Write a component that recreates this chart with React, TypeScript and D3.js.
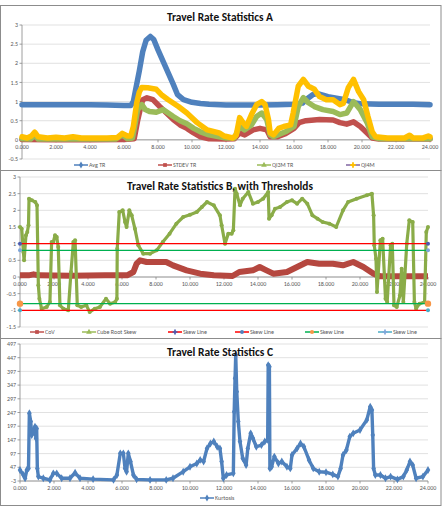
import { useEffect, useRef } from 'react';
import * as d3 from 'd3';

type Pt = [number, number];

// ---- shared axis values ----
const hourTicks = [0, 2, 4, 6, 8, 10, 12, 14, 16, 18, 20, 22, 24];
const yTicksA = [-0.5, 0, 0.5, 1, 1.5, 2, 2.5, 3];
const yTicksB = [-1.5, -1, -0.5, 0, 0.5, 1, 1.5, 2, 2.5, 3];
const yTicksC = [-3, 47, 97, 147, 197, 247, 297, 347, 397, 447, 497];

// ---- Statistics A ----
const avgTR: Pt[] = [
  [0, 0.92], [1, 0.92], [2, 0.92], [3, 0.92], [4, 0.92], [5, 0.91], [6, 0.9], [6.4, 0.9],
  [6.55, 1.0], [6.7, 1.35], [6.9, 1.8], [7.1, 2.3], [7.3, 2.6], [7.55, 2.7], [7.75, 2.62],
  [8.0, 2.35], [8.3, 2.05], [8.6, 1.75], [8.9, 1.45], [9.15, 1.18], [9.5, 1.05], [10, 0.98],
  [10.5, 0.95], [11, 0.93], [12, 0.91], [13, 0.91], [14, 0.91], [15, 0.92], [16, 0.93],
  [16.5, 0.96], [16.8, 1.08], [17.1, 1.18], [17.35, 1.21], [17.7, 1.17], [18, 1.13],
  [18.5, 1.09], [19, 1.05], [19.5, 0.97], [20, 0.94], [21, 0.93], [22, 0.93], [23, 0.93], [24, 0.92],
];
const stdevTR: Pt[] = [
  [0, 0.01], [2, 0.0], [4, 0.0], [6, 0.01], [6.6, 0.03], [6.8, 0.5], [6.95, 0.79], [7.1, 1.05],
  [7.35, 1.1], [7.7, 1.05], [8.1, 0.87], [8.5, 0.7], [8.9, 0.53], [9.3, 0.39], [9.7, 0.3],
  [10.1, 0.18], [10.5, 0.08], [11, 0.03], [12, 0.02], [12.5, 0.03], [12.8, 0.18], [13.1, 0.13],
  [13.6, 0.26], [14.0, 0.3], [14.4, 0.26], [14.6, 0.08], [15.0, 0.08], [15.5, 0.16], [16.0, 0.3],
  [16.3, 0.45], [16.7, 0.5], [17.5, 0.53], [18.3, 0.52], [18.7, 0.45], [19.1, 0.41], [19.5, 0.47],
  [19.9, 0.35], [20.3, 0.18], [20.6, 0.05], [21, 0.02], [24, 0.02],
];
const qi3mTR: Pt[] = [
  [0, 0.03], [0.5, 0.02], [0.75, 0.12], [0.95, 0.02], [2, 0.02], [3, 0.03], [4, 0.02], [5.5, 0.02],
  [5.9, 0.13], [6.2, 0.03], [6.5, 0.05], [6.65, 0.4], [6.8, 0.79], [7.05, 0.92], [7.25, 0.79],
  [7.5, 0.74], [7.9, 0.72], [8.3, 0.79], [8.6, 0.7], [8.9, 0.61], [9.3, 0.5], [9.7, 0.42],
  [10.1, 0.3], [10.5, 0.21], [11, 0.13], [11.6, 0.08], [12, 0.05], [12.5, 0.05], [12.8, 0.35],
  [13.1, 0.26], [13.5, 0.39], [13.8, 0.61], [14.1, 0.7], [14.4, 0.53], [14.6, 0.13], [14.8, 0.08],
  [15.5, 0.21], [16.0, 0.35], [16.25, 0.87], [16.55, 1.1], [16.85, 0.97], [17.2, 0.87], [17.7, 0.79],
  [18.3, 0.74], [18.7, 0.66], [19.1, 0.7], [19.5, 1.0], [19.9, 0.79], [20.3, 0.45], [20.6, 0.08],
  [21, 0.03], [24, 0.03],
];
const qi4m: Pt[] = [
  [0, 0.08], [0.3, 0.05], [0.55, 0.1], [0.75, 0.2], [0.95, 0.08], [1.5, 0.05], [2, 0.07], [2.5, 0.05],
  [3, 0.08], [3.5, 0.05], [4, 0.05], [5, 0.05], [5.6, 0.06], [5.9, 0.17], [6.2, 0.1], [6.4, 0.1],
  [6.55, 0.35], [6.75, 0.97], [6.9, 1.25], [7.05, 1.37], [7.4, 1.36], [7.9, 1.32], [8.2, 1.18],
  [8.6, 1.05], [9.2, 0.87], [9.7, 0.7], [10.3, 0.45], [10.9, 0.26], [11.6, 0.18], [11.9, 0.1],
  [12.4, 0.05], [12.6, 0.12], [12.8, 0.58], [13.0, 0.45], [13.2, 0.35], [13.5, 0.66], [13.8, 0.92],
  [14.1, 1.0], [14.3, 0.92], [14.5, 0.53], [14.6, 0.18], [14.8, 0.13], [15.1, 0.3], [15.4, 0.35],
  [15.8, 0.39], [15.95, 0.7], [16.25, 1.4], [16.55, 1.58], [16.85, 1.4], [17.2, 1.32], [17.5, 1.13],
  [17.9, 1.05], [18.3, 1.05], [18.7, 0.92], [18.9, 0.95], [19.2, 1.37], [19.5, 1.58], [19.8, 1.26],
  [20.1, 1.05], [20.35, 0.61], [20.6, 0.21], [20.8, 0.08], [21.5, 0.05], [22.5, 0.05], [22.8, 0.12],
  [23, 0.05], [23.6, 0.05], [23.9, 0.1], [24, 0.08],
];

// ---- Statistics B ----
const cov: Pt[] = [
  [0, 0.05], [0.5, 0.05], [0.8, 0.08], [1.1, 0.05], [3, 0.04], [5, 0.05], [6.3, 0.05], [6.67, 0.15],
  [6.86, 0.4], [7.06, 0.5], [7.45, 0.45], [8.04, 0.45], [8.6, 0.45], [9.0, 0.35], [9.8, 0.2],
  [10.6, 0.1], [11.4, 0.05], [12.5, 0.03], [12.9, 0.15], [13.7, 0.2], [14.1, 0.3], [14.5, 0.2],
  [14.9, 0.1], [15.7, 0.15], [16.3, 0.3], [16.9, 0.45], [17.6, 0.4], [18.4, 0.4], [19.0, 0.35],
  [19.6, 0.45], [20.2, 0.3], [20.8, 0.1], [21.2, 0.02], [24, 0.02],
];
const cubeRootSkew: Pt[] = [
  [0, 1.5], [0.1, 1.45], [0.2, 0.75], [0.24, 0.5], [0.35, 1.25], [0.43, 1.35], [0.5, 1.55],
  [0.53, 2.35], [0.7, 2.3], [0.9, 2.25], [1.0, 2.15], [1.08, -0.25], [1.14, -0.65], [1.27, -0.95],
  [1.57, -0.9], [1.76, -0.75], [1.86, 1.05], [1.96, 1.05], [2.06, 1.25], [2.16, 1.2], [2.25, 0.9],
  [2.35, -0.85], [2.55, -0.95], [2.84, -1.0], [3.0, 0.15], [3.14, 1.05], [3.24, 1.1], [3.37, -0.85],
  [3.6, -0.9], [3.9, -0.85], [4.1, -1.05], [4.4, -0.95], [4.7, -0.9], [5.06, -0.65], [5.3, -0.8],
  [5.6, -0.75], [5.7, -0.65], [5.72, 0.85], [5.84, 1.95], [6.04, 2.0], [6.18, 1.65], [6.27, 1.5],
  [6.43, 2.0], [6.57, 1.85], [6.76, 1.45], [6.96, 0.95], [7.25, 0.7], [7.65, 0.7], [8.04, 0.8],
  [8.4, 1.05], [8.8, 1.3], [9.2, 1.6], [9.6, 1.8], [10.0, 1.87], [10.4, 1.95], [10.7, 2.1],
  [11.0, 2.25], [11.4, 2.15], [11.76, 1.85], [11.86, 1.55], [12.06, 1.0], [12.25, 1.3], [12.45, 1.3],
  [12.55, 1.4], [12.65, 2.65], [12.75, 2.5], [12.94, 2.15], [13.1, 2.35], [13.43, 2.55], [13.7, 2.2],
  [14.0, 2.25], [14.3, 2.35], [14.6, 2.55], [14.65, 1.75], [14.8, 1.85], [15.0, 2.05], [15.3, 2.1],
  [15.7, 2.25], [16.0, 2.3], [16.3, 2.2], [16.6, 2.35], [16.9, 2.2], [17.2, 1.85], [17.5, 1.75],
  [17.8, 1.65], [18.2, 1.6], [18.6, 1.5], [19.0, 2.0], [19.3, 2.25], [19.8, 2.35], [20.4, 2.45],
  [20.7, 2.5], [20.8, 1.85], [20.84, 0.95], [20.94, 0.55], [21.0, -0.45], [21.2, 1.1], [21.33, 1.15],
  [21.5, -0.65], [21.6, -0.75], [21.8, 0.95], [21.9, 1.0], [22.0, -0.85], [22.16, -0.9], [22.35, -0.55],
  [22.45, 0.25], [22.55, -0.75], [22.75, 1.0], [22.9, 1.7], [23.1, 1.65], [23.2, -0.75], [23.3, -0.95],
  [23.5, -0.8], [23.8, -0.75], [23.9, 1.35], [24.0, 1.5],
];
const skewLevels = [1, 0.8, -0.8, -1];

// ---- Statistics C ----
const kurtosis: Pt[] = [
  [0, 37], [0.2, 19], [0.3, 7], [0.4, 37], [0.5, 43], [0.55, 244], [0.63, 214], [0.69, 165],
  [0.78, 177], [0.88, 195], [0.94, 153], [0.98, 189], [1.02, 43], [1.08, 13], [1.37, 7], [1.76, 1],
  [1.96, 25], [2.16, 25], [2.45, 7], [2.94, 7], [3.24, 27], [3.53, 7], [4.3, 4], [5.5, 1], [5.7, 19],
  [5.9, 98], [6.08, 98], [6.18, 43], [6.27, 31], [6.37, 98], [6.5, 68], [6.67, 19], [6.86, 3],
  [7.65, 1], [8.6, 1], [9.0, 7], [9.6, 31], [10.0, 49], [10.4, 61], [10.6, 74], [10.8, 68],
  [11.0, 116], [11.2, 134], [11.4, 141], [11.6, 122], [11.76, 116], [11.86, 68], [11.96, 7],
  [12.15, 19], [12.55, 25], [12.6, 250], [12.65, 372], [12.69, 457], [12.75, 323], [12.84, 214],
  [12.94, 141], [13.1, 80], [13.3, 55], [13.4, 116], [13.57, 171], [13.7, 153], [13.9, 122],
  [14.2, 128], [14.4, 141], [14.57, 147], [14.6, 420], [14.67, 414], [14.7, 43], [14.8, 49],
  [14.96, 86], [15.2, 61], [15.4, 68], [15.7, 49], [15.9, 43], [16.0, 92], [16.3, 116], [16.5, 134],
  [16.7, 122], [17.0, 74], [17.25, 43], [17.6, 31], [18.0, 29], [18.4, 21], [18.7, 13], [18.86, 43],
  [19.0, 92], [19.2, 110], [19.4, 159], [19.6, 171], [20.0, 183], [20.4, 220], [20.6, 268],
  [20.7, 256], [20.75, 165], [20.8, 43], [20.9, 19], [21.2, 19], [21.5, 7], [21.8, 13], [22.2, 3],
  [22.55, 13], [22.75, 37], [22.94, 68], [23.1, 55], [23.3, 7], [23.7, 13], [24.0, 37],
];

const FONT = "Carlito, Calibri, 'Liberation Sans Narrow', 'Liberation Sans', sans-serif";
const GRID = '#d9d9d9';
const AXIS = '#868686';
const LABEL = '#595959';

type Sel = d3.Selection<SVGGElement, unknown, null, undefined>;

// gridlines, axis lines and tick labels for one panel
function drawFrame(g: Sel, x: d3.ScaleLinear<number, number>, y: d3.ScaleLinear<number, number>,
  yTicks: number[], baseValue: number) {
  const [x0, x1] = x.range();
  g.selectAll('line.grid').data(yTicks).enter().append('line')
    .attr('x1', x0).attr('x2', x1)
    .attr('y1', d => y(d)).attr('y2', d => y(d))
    .attr('stroke', GRID).attr('stroke-width', 0.8);

  // y axis
  g.append('line').attr('x1', x0).attr('x2', x0)
    .attr('y1', y(yTicks[0])).attr('y2', y(yTicks[yTicks.length - 1]))
    .attr('stroke', AXIS).attr('stroke-width', 0.8);
  g.selectAll('line.ytick').data(yTicks).enter().append('line')
    .attr('x1', x0 - 2.5).attr('x2', x0)
    .attr('y1', d => y(d)).attr('y2', d => y(d))
    .attr('stroke', AXIS).attr('stroke-width', 0.8);
  g.selectAll('text.ylab').data(yTicks).enter().append('text')
    .attr('x', x0 - 4).attr('y', d => y(d))
    .attr('dy', '0.35em').attr('text-anchor', 'end')
    .attr('font-size', 6).attr('fill', LABEL).attr('font-family', FONT)
    .text(d => String(d));

  // x axis sits on the base value line
  const yb = y(baseValue);
  g.append('line').attr('x1', x0).attr('x2', x1).attr('y1', yb).attr('y2', yb)
    .attr('stroke', AXIS).attr('stroke-width', 0.8);
  g.selectAll('line.xtick').data(hourTicks).enter().append('line')
    .attr('x1', d => x(d)).attr('x2', d => x(d))
    .attr('y1', yb).attr('y2', yb + 2.5)
    .attr('stroke', AXIS).attr('stroke-width', 0.8);
  g.selectAll('text.xlab').data(hourTicks).enter().append('text')
    .attr('x', d => x(d)).attr('y', yb + 7)
    .attr('dy', '0.35em').attr('text-anchor', 'middle')
    .attr('font-size', 6).attr('fill', LABEL).attr('font-family', FONT)
    .text(d => d3.format('.3f')(d));
}

function drawTitle(svg: d3.Selection<SVGSVGElement, unknown, null, undefined>, text: string, y: number, width: number) {
  svg.append('text')
    .attr('x', 220).attr('y', y).attr('dy', '0.35em')
    .attr('text-anchor', 'middle')
    .attr('font-family', FONT).attr('font-weight', 'bold').attr('font-size', 11)
    .attr('fill', '#111')
    .attr('textLength', width).attr('lengthAdjust', 'spacingAndGlyphs')
    .text(text);
}

type LegendItem = { label: string; x: number; line: string; marker: string; shape: d3.SymbolType; size: number };

function drawLegend(svg: d3.Selection<SVGSVGElement, unknown, null, undefined>, items: LegendItem[], y: number) {
  items.forEach(it => {
    const g = svg.append('g');
    g.append('line').attr('x1', it.x).attr('x2', it.x + 14).attr('y1', y).attr('y2', y)
      .attr('stroke', it.line).attr('stroke-width', 1.5);
    g.append('path').attr('d', d3.symbol().type(it.shape).size(it.size)())
      .attr('transform', `translate(${it.x + 7},${y})`).attr('fill', it.marker);
    g.append('text').attr('x', it.x + 15).attr('y', y).attr('dy', '0.35em')
      .attr('font-family', FONT).attr('font-size', 6).attr('fill', LABEL)
      .text(it.label);
  });
}

const App = () => {
  const svgRef = useRef<SVGSVGElement>(null);

  useEffect(() => {
    const svg = d3.select(svgRef.current as SVGSVGElement);
    svg.selectAll('*').remove();

    svg.append('rect').attr('width', 445).attr('height', 508).attr('fill', '#fff');

    // panel borders
    [[5, 170], [170, 338], [338, 505]].forEach(([t, b]) => {
      svg.append('rect').attr('x', 0.5).attr('y', t + 0.5).attr('width', 440.5).attr('height', b - t)
        .attr('fill', 'none').attr('stroke', '#8c8c8c').attr('stroke-width', 1);
    });

    // ---------- Panel A ----------
    const xA = d3.scaleLinear().domain([0, 24]).range([22, 430]);
    const yA = d3.scaleLinear().domain([-0.5, 3]).range([159, 25]);
    const gA = svg.append('g');
    drawFrame(gA, xA, yA, yTicksA, 0);
    const lineA = d3.line<Pt>().x(d => xA(d[0])).y(d => yA(d[1])).curve(d3.curveLinear);
    const seriesA: [Pt[], string][] = [
      [avgTR, '#4f81bd'], [stdevTR, '#c0504d'], [qi3mTR, '#9bbb59'], [qi4m, '#ffc000'],
    ];
    seriesA.forEach(([data, color]) => {
      gA.append('path').datum(data).attr('d', lineA)
        .attr('fill', 'none').attr('stroke', color).attr('stroke-width', 5.5)
        .attr('stroke-linejoin', 'round').attr('stroke-linecap', 'round');
    });
    drawTitle(svg, 'Travel Rate Statistics A', 17, 106);
    drawLegend(svg, [
      { label: 'Avg TR', x: 74, line: '#4f81bd', marker: '#4f81bd', shape: d3.symbolDiamond, size: 14 },
      { label: 'STDEV TR', x: 158, line: '#c0504d', marker: '#c0504d', shape: d3.symbolSquare, size: 14 },
      { label: 'QI3M TR', x: 257, line: '#9bbb59', marker: '#9bbb59', shape: d3.symbolTriangle, size: 14 },
      { label: 'QI4M', x: 346, line: '#8064a2', marker: '#ffc000', shape: d3.symbolCross, size: 16 },
    ], 165);

    // ---------- Panel B ----------
    const xB = d3.scaleLinear().domain([0, 24]).range([20, 428]);
    const yB = d3.scaleLinear().domain([-1.5, 3]).range([327, 177]);
    const gB = svg.append('g');
    drawFrame(gB, xB, yB, yTicksB, 0);
    const lineB = d3.line<Pt>().x(d => xB(d[0])).y(d => yB(d[1]));
    gB.append('path').datum(cov).attr('d', lineB)
      .attr('fill', 'none').attr('stroke', '#b5473f').attr('stroke-width', 6)
      .attr('stroke-linejoin', 'round');
    gB.append('path').datum(cubeRootSkew).attr('d', lineB)
      .attr('fill', 'none').attr('stroke', '#8aac48').attr('stroke-width', 3.2)
      .attr('stroke-linejoin', 'round');
    gB.selectAll('circle.skew').data(cubeRootSkew).enter().append('circle')
      .attr('cx', d => xB(d[0])).attr('cy', d => yB(d[1])).attr('r', 2)
      .attr('fill', '#8aac48');

    const levelColors = ['#ff0000', '#00b050', '#00b050', '#ff0000'];
    const endColors = ['#4a5bb0', '#7fa6d9', '#f79646', '#4bacc6'];
    skewLevels.forEach((lv, i) => {
      gB.append('line').attr('x1', xB(0)).attr('x2', xB(24))
        .attr('y1', yB(lv)).attr('y2', yB(lv))
        .attr('stroke', levelColors[i]).attr('stroke-width', 1.4);
      [0, 24].forEach(h => {
        gB.append('circle').attr('cx', xB(h)).attr('cy', yB(lv))
          .attr('r', i === 2 ? 3.2 : 2).attr('fill', endColors[i]);
      });
    });
    drawTitle(svg, 'Travel Rate Statistics B, with Thresholds', 186, 186);
    drawLegend(svg, [
      { label: 'CoV', x: 30, line: '#c0504d', marker: '#c0504d', shape: d3.symbolSquare, size: 14 },
      { label: 'Cube Root Skew', x: 82, line: '#9bbb59', marker: '#9bbb59', shape: d3.symbolTriangle, size: 14 },
      { label: 'Skew Line', x: 168, line: '#ff0000', marker: '#4a5bb0', shape: d3.symbolCross, size: 14 },
      { label: 'Skew Line', x: 235, line: '#ff0000', marker: '#4f81bd', shape: d3.symbolCircle, size: 12 },
      { label: 'Skew Line', x: 305, line: '#00b050', marker: '#f79646', shape: d3.symbolCircle, size: 14 },
      { label: 'Skew Line', x: 378, line: '#4bacc6', marker: '#7fa6d9', shape: d3.symbolCross, size: 14 },
    ], 332);

    // ---------- Panel C ----------
    const xC = d3.scaleLinear().domain([0, 24]).range([20, 428]);
    const yC = d3.scaleLinear().domain([-3, 497]).range([481, 344]);
    const gC = svg.append('g');
    drawFrame(gC, xC, yC, yTicksC, -3);
    const lineC = d3.line<Pt>().x(d => xC(d[0])).y(d => yC(d[1]));
    gC.append('path').datum(kurtosis).attr('d', lineC)
      .attr('fill', 'none').attr('stroke', '#4f81bd').attr('stroke-width', 3.4)
      .attr('stroke-linejoin', 'round');
    gC.selectAll('path.kp').data(kurtosis).enter().append('path')
      .attr('d', d3.symbol().type(d3.symbolDiamond).size(18)())
      .attr('transform', d => `translate(${xC(d[0])},${yC(d[1])})`)
      .attr('fill', '#4f81bd');
    drawTitle(svg, 'Travel Rate Statistics C', 352, 106);
    drawLegend(svg, [
      { label: 'Kurtosis', x: 200, line: '#4f81bd', marker: '#4f81bd', shape: d3.symbolDiamond, size: 14 },
    ], 498);
  }, []);

  return (
    <svg ref={svgRef} width={445} height={508}
      style={{ position: 'absolute', left: 0, top: 0, display: 'block' }} />
  );
};

export default App;
